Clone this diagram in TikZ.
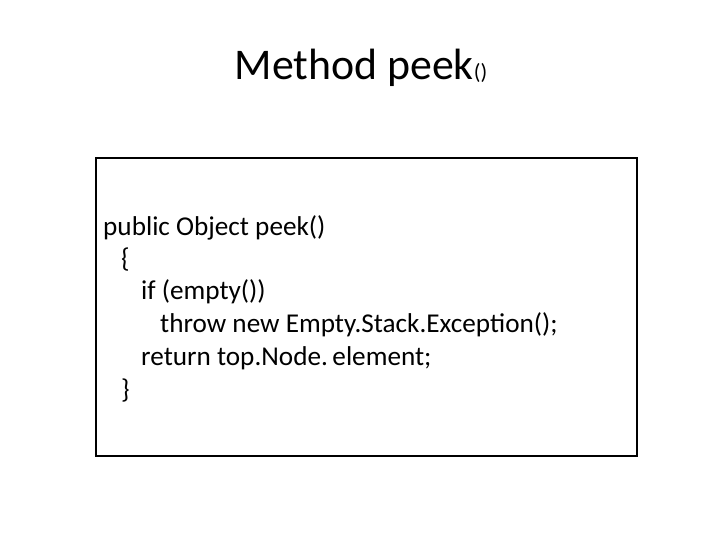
\documentclass[tikz,border=0pt]{standalone}
\usepackage{fontspec}
\setmainfont{Carlito}
\begin{document}
\begin{tikzpicture}[x=1pt,y=-1pt,
  code/.style={anchor=west,inner sep=0pt,font=\fontsize{27.2}{30}\selectfont}]
\useasboundingbox (0,0) rectangle (720,540);
\node[inner sep=0pt,font=\fontsize{43.8}{48}\selectfont] (title) at (361,68) {Method peek{\fontsize{22}{26}\selectfont()}};
\node[draw,line width=2.4pt,minimum width=541,minimum height=298,anchor=north west,inner sep=0pt] (box) at (95,157) {};
\node[code] (l1) at (103,228) {public Object peek()};
\node[code] (l2) at (121,260) {\{};
\node[code] (l3) at (141,292) {if (empty())};
\node[code] (l4) at (160,325) {throw new Empty.Stack.Exception();};
\node[code] (l5) at (141,358) {return top.Node.\,element;};
\node[code] (l6) at (121,391) {\}};
\end{tikzpicture}
\end{document}
